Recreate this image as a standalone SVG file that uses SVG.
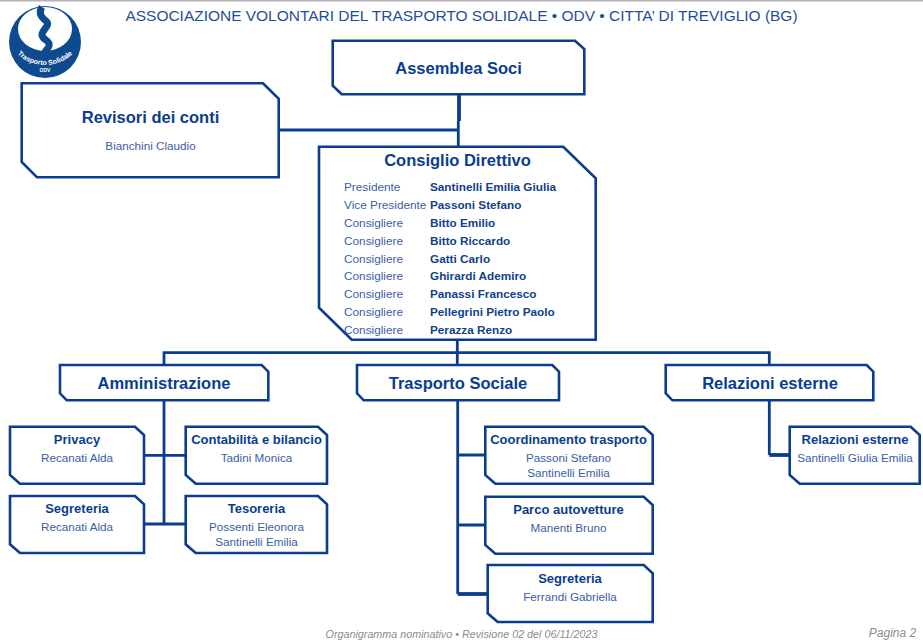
<svg xmlns="http://www.w3.org/2000/svg" width="923" height="641" viewBox="0 0 923 641">
<style>
text{font-family:"Liberation Sans",Arial,sans-serif;text-anchor:middle}
.box{fill:#fff;stroke:#0a3d8f;stroke-width:2.6;stroke-linejoin:miter}
.c{fill:none;stroke:#0a3d8f;stroke-width:2.8}
.ck{fill:none;stroke:#0a3d8f;stroke-width:3.8}
.h1{font-size:16.5px;font-weight:bold;fill:#0a3d8f}
.h2{font-size:13px;font-weight:bold;fill:#0a3d8f}
.p{font-size:11.7px;fill:#3a5ea8}
.l{font-size:11.8px;fill:#3a5ea8;text-anchor:start}
.b{font-size:11.75px;font-weight:bold;fill:#123f8c;text-anchor:start}
</style>
<rect width="923" height="641" fill="#fff"/>
<rect width="923" height="1.5" fill="#b4b4b4"/>
<g id="logo">
<circle cx="45" cy="42" r="36" fill="#0e4a90"/>
<ellipse cx="45" cy="29" rx="27" ry="22" fill="#fff"/>
<path d="M42 7C38 13 41 17 46 21C51 25 43 29 42 34C41 40 51 40 49 46C48 49 46 50 45 52" fill="none" stroke="#0e4a90" stroke-width="7"/>
<path id="logo-arc" d="M11 38A34 27 0 0 0 79 38" fill="none"/>
<text style="font-size:7px;font-weight:bold;fill:#fff"><textPath href="#logo-arc" startOffset="50%">Trasporto Solidale</textPath></text>
<text x="45" y="72" style="font-size:5px;font-weight:bold;fill:#fff">ODV</text>
</g>
<text x="461.5" y="21" style="font-size:15.47px;fill:#1e4f9e">ASSOCIAZIONE VOLONTARI DEL TRASPORTO SOLIDALE • ODV • CITTA’ DI TREVIGLIO (BG)</text>
<g id="connectors">
<path class="ck" d="M459 94V121"/>
<path class="c" d="M458.3 121V147M279 130H458.3"/>
<path class="c" d="M457.3 340V365M164 365V352.7H769.3V365"/>
<path class="c" d="M164 400V524"/>
<path class="c" d="M144 455.3H186M144 524H186"/>
<path class="c" d="M457.7 400V594M457.7 455H485.5M457.7 525H485.5"/>
<path class="ck" d="M457.7 594H488"/>
<path class="c" d="M769.3 400V455"/>
<path class="ck" d="M769.3 455H790"/>
</g>
<g id="assemblea"><path class="box" d="M332.7 40.7H575L584.3 49V94.3H341.7L332.7 85.7Z"/><text class="h1" x="458.5" y="73.5">Assemblea Soci</text></g>
<g id="revisori"><path class="box" d="M21.7 83.3H263L278.7 98.7V177.3H37L21.7 162Z"/><text class="h1" x="150.5" y="123">Revisori dei conti</text><text class="p" x="150.5" y="150">Bianchini Claudio</text></g>
<g id="consiglio"><path class="box" d="M319 146.7H563.3L595.7 178.3V339.7H351.7L319 307.7Z"/><text class="h1" x="457.5" y="166">Consiglio Direttivo</text>
<text class="l" x="344" y="191">Presidente</text><text class="b" x="430" y="191">Santinelli Emilia Giulia</text>
<text class="l" x="344" y="209">Vice Presidente</text><text class="b" x="430" y="209">Passoni Stefano</text>
<text class="l" x="344" y="227">Consigliere</text><text class="b" x="430" y="227">Bitto Emilio</text>
<text class="l" x="344" y="245">Consigliere</text><text class="b" x="430" y="245">Bitto Riccardo</text>
<text class="l" x="344" y="262.8">Consigliere</text><text class="b" x="430" y="262.8">Gatti Carlo</text>
<text class="l" x="344" y="280">Consigliere</text><text class="b" x="430" y="280">Ghirardi Ademiro</text>
<text class="l" x="344" y="298">Consigliere</text><text class="b" x="430" y="298">Panassi Francesco</text>
<text class="l" x="344" y="316">Consigliere</text><text class="b" x="430" y="316">Pellegrini Pietro Paolo</text>
<text class="l" x="344" y="334">Consigliere</text><text class="b" x="430" y="334">Perazza Renzo</text></g>
<g id="amministrazione"><path class="box" d="M60 365H261.7L268.3 371.7V400.3H66.7L60 393.3Z"/><text class="h1" x="164" y="389">Amministrazione</text></g>
<g id="trasporto"><path class="box" d="M357 365H552.3L559 371.7V400.3H363.7L357 393.3Z"/><text class="h1" x="458" y="389">Trasporto Sociale</text></g>
<g id="relazioni"><path class="box" d="M665.7 365H866.7L873.3 371.7V400.3H672.4L665.7 393.3Z"/><text class="h1" x="770" y="389">Relazioni esterne</text></g>
<g id="privacy"><path class="box" d="M10 426.7H135L144 435V483.7H20L10 475Z"/><text class="h2" x="77" y="444">Privacy</text><text class="p" x="77" y="462">Recanati Alda</text></g>
<g id="contabilita"><path class="box" d="M185.7 426.7H318L327 435V483.7H195.7L185.7 475Z"/><text class="h2" x="256.5" y="444">Contabilità e bilancio</text><text class="p" x="256.5" y="462">Tadini Monica</text></g>
<g id="segreteria-a"><path class="box" d="M10 496H135L144 504.3V553H20L10 544.3Z"/><text class="h2" x="77" y="513.3">Segreteria</text><text class="p" x="77" y="531">Recanati Alda</text></g>
<g id="tesoreria"><path class="box" d="M185.7 496H318L327 504.3V553H195.7L185.7 544.3Z"/><text class="h2" x="256.5" y="513.3">Tesoreria</text><text class="p" x="256.5" y="531">Possenti Eleonora</text><text class="p" x="256.5" y="546">Santinelli Emilia</text></g>
<g id="coordinamento"><path class="box" d="M485.3 426.7H643.7L652.7 435V483.7H495.3L485.3 475Z"/><text class="h2" x="568.5" y="444">Coordinamento trasporto</text><text class="p" x="568.5" y="462">Passoni Stefano</text><text class="p" x="568.5" y="477">Santinelli Emilia</text></g>
<g id="parco"><path class="box" d="M485.3 496.7H643.7L652.7 505V553.7H495.3L485.3 545Z"/><text class="h2" x="568.5" y="514">Parco autovetture</text><text class="p" x="568.5" y="532">Manenti Bruno</text></g>
<g id="segreteria-b"><path class="box" d="M487.7 565H643.7L652.7 573.3V622H497.7L487.7 613.3Z"/><text class="h2" x="570" y="582.7">Segreteria</text><text class="p" x="570" y="600.7">Ferrandi Gabriella</text></g>
<g id="relazioni-sub"><path class="box" d="M789.7 426.7H910.7L919.7 435V483.7H799.7L789.7 475Z"/><text class="h2" x="855" y="444">Relazioni esterne</text><text class="p" x="855" y="462">Santinelli Giulia Emilia</text></g>
<text x="461.5" y="637.5" style="font-size:10.75px;font-style:italic;fill:#8c8c8c">Organigramma nominativo • Revisione 02 del 06/11/2023</text>
<text x="892.5" y="637" style="font-size:12px;font-style:italic;fill:#8c8c8c">Pagina 2</text>
</svg>
